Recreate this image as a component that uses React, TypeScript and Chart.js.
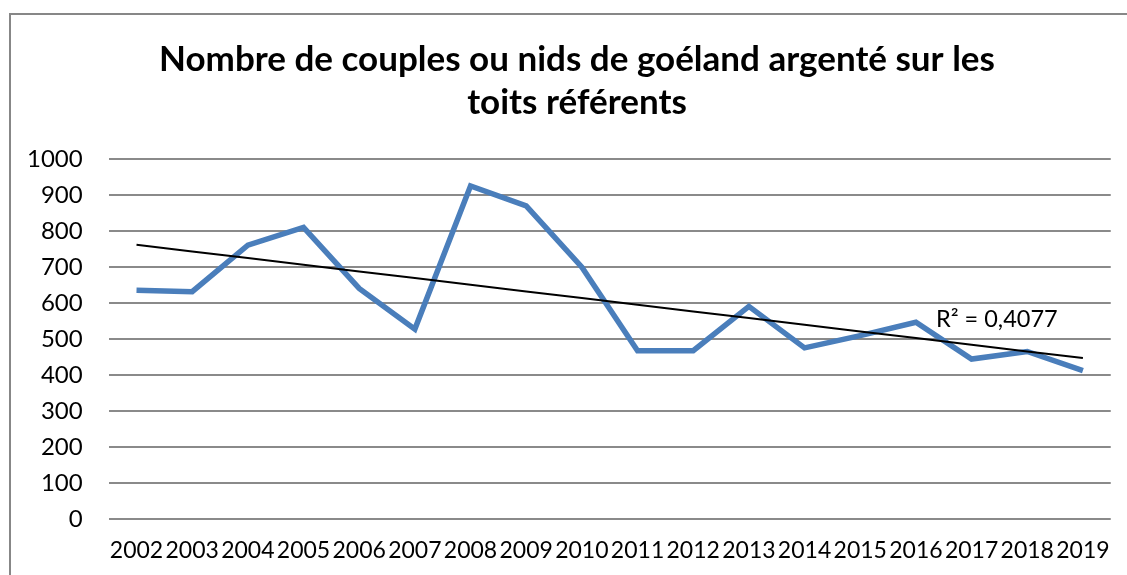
import React, { useEffect, useRef } from "react";
import { Chart, registerables } from "chart.js";

Chart.register(...registerables);

const years = [
  "2002", "2003", "2004", "2005", "2006", "2007", "2008", "2009", "2010",
  "2011", "2012", "2013", "2014", "2015", "2016", "2017", "2018", "2019",
];
const couples = [636, 632, 761, 810, 641, 528, 925, 870, 700, 468, 468, 591, 476, 510, 547, 445, 466, 413];
const titleLines = ["Nombre de couples ou nids de goéland argenté sur les", "toits référents"];
const r2Label = "R² = 0,4077";

function linearTrend(values: number[]): number[] {
  const n = values.length;
  const mx = (n - 1) / 2;
  const my = values.reduce((a, b) => a + b, 0) / n;
  let sxy = 0;
  let sxx = 0;
  values.forEach((v, i) => {
    sxy += (i - mx) * (v - my);
    sxx += (i - mx) * (i - mx);
  });
  const slope = sxy / sxx;
  const intercept = my - slope * mx;
  return values.map((_, i) => intercept + slope * i);
}

const FONT = "Lato, 'Open Sans', sans-serif";

export default function App() {
  const ref = useRef<HTMLCanvasElement | null>(null);

  useEffect(() => {
    if (!ref.current) return;
    const textPlugin = {
      id: "texts",
      afterDraw(chart: any) {
        const ctx = chart.ctx;
        ctx.save();
        ctx.fillStyle = "#000";
        ctx.textBaseline = "middle";
        ctx.textAlign = "center";
        ctx.font = `bold 35px ${FONT}`;
        titleLines.forEach((line, i) => ctx.fillText(line, 577, 60 + i * 43));
        ctx.font = `23.5px ${FONT}`;
        ctx.textAlign = "left";
        ctx.fillText(r2Label, 936, 319);
        ctx.restore();
      },
    };
    const chart = new Chart(ref.current, {
      type: "line",
      data: {
        labels: years,
        datasets: [
          {
            label: "Tendance",
            data: linearTrend(couples),
            borderColor: "#000000",
            borderWidth: 2,
            pointRadius: 0,
            fill: false,
            order: 0,
          },
          {
            label: "Couples",
            data: couples,
            borderColor: "#4A7EBB",
            borderWidth: 5.5,
            pointRadius: 0,
            fill: false,
            tension: 0,
            borderJoinStyle: "miter",
            order: 1,
          },
        ],
      },
      options: {
        animation: false,
        responsive: false,
        layout: { padding: { left: 1, right: 15, top: 159, bottom: 19 } },
        plugins: {
          legend: { display: false },
          tooltip: { enabled: false },
          title: { display: false },
        },
        scales: {
          x: {
            offset: true,
            grid: { display: false, drawTicks: false },
            border: { display: false },
            ticks: {
              color: "#000",
              font: { family: FONT, size: 23 },
              padding: 17,
              maxRotation: 0,
              autoSkip: false,
            },
          },
          y: {
            min: 0,
            max: 1000,
            grid: { color: "#8a8a8a", lineWidth: 2, drawTicks: false },
            border: { display: false },
            ticks: {
              stepSize: 100,
              color: "#000",
              font: { family: FONT, size: 24 },
              padding: 26,
              callback: (v: any) => String(v),
            },
          },
        },
      },
      plugins: [textPlugin],
    });
    return () => chart.destroy();
  }, []);

  return (
    <>
      <div
        style={{
          position: "fixed",
          left: 9,
          top: 13,
          width: 1140,
          height: 600,
          border: "2px solid #878787",
          boxSizing: "border-box",
        }}
      />
      <canvas
        ref={ref}
        width={1127}
        height={600}
        style={{ position: "fixed", left: 0, top: 0, width: 1127, height: 600 }}
      />
    </>
  );
}
